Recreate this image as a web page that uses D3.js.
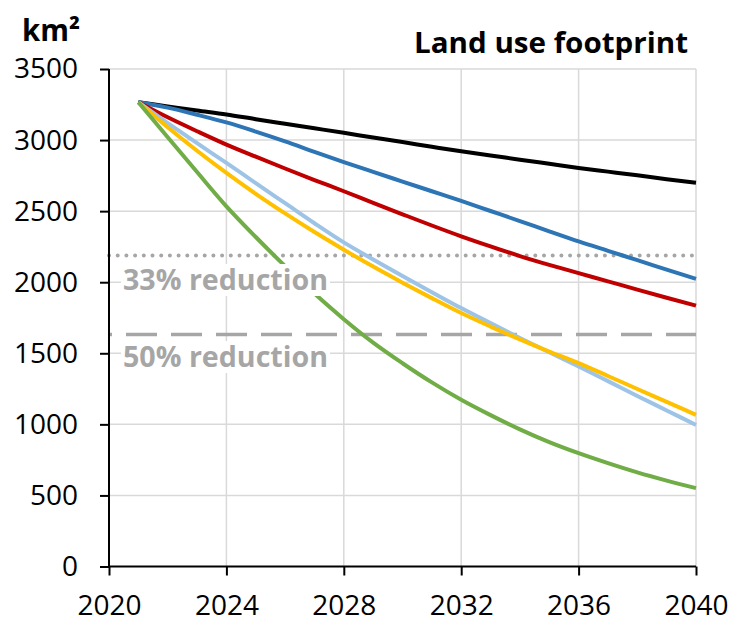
<!DOCTYPE html>
<html>
<head>
<meta charset="utf-8">
<script src="https://cdn.jsdelivr.net/npm/d3@7"></script>
<style>
  html, body { margin: 0; padding: 0; background: #fff; }
  svg { display: block; font-family: "Open Sans", "DejaVu Sans", sans-serif; }
</style>
</head>
<body>
<svg id="chart" width="730" height="622"></svg>
<script>
// Land use footprint scenarios, km², 2021–2040
const years = d3.range(2021, 2041);

const blackValues     = [3266, 3237, 3208, 3180, 3147, 3115, 3083, 3051, 3018, 2986, 2953, 2921, 2892, 2862, 2833, 2804, 2778, 2752, 2725, 2699];
const blueValues      = [3266, 3228, 3178, 3124, 3060, 2991, 2917, 2845, 2776, 2708, 2640, 2572, 2501, 2430, 2358, 2287, 2221, 2155, 2089, 2023];
const redValues       = [3266, 3160, 3062, 2968, 2883, 2800, 2719, 2640, 2558, 2478, 2399, 2323, 2252, 2184, 2122, 2064, 2006, 1948, 1891, 1835];
const lightBlueValues = [3266, 3120, 2978, 2839, 2697, 2556, 2415, 2280, 2160, 2043, 1930, 1818, 1712, 1608, 1507, 1407, 1304, 1200, 1098, 996];
const yellowValues    = [3266, 3090, 2925, 2769, 2622, 2484, 2353, 2229, 2110, 1997, 1888, 1783, 1688, 1598, 1512, 1431, 1340, 1249, 1158, 1067];
const greenValues     = [3266, 3020, 2775, 2534, 2318, 2113, 1920, 1740, 1575, 1430, 1295, 1173, 1065, 965, 875, 797, 727, 662, 604, 551];

const seriesColors = ["#000000", "#2e75b6", "#c00000", "#9dc3e6", "#ffc000", "#70ad47"];
const seriesList = [blackValues, blueValues, redValues, lightBlueValues, yellowValues, greenValues];

const xTicks = [2020, 2024, 2028, 2032, 2036, 2040];
const yTicks = [0, 500, 1000, 1500, 2000, 2500, 3000, 3500];

// reduction targets relative to the 2021 footprint
const reductionShares = [0.33, 0.50];
const reductionLabels = ["33% reduction", "50% reduction"];

const svg = d3.select("#chart");
const x = d3.scaleLinear().domain([2020, 2040]).range([109, 696]);
const y = d3.scaleLinear().domain([0, 3500]).range([566.5, 69]);

// gridlines
const grid = svg.append("g").attr("stroke", "#d9d9d9").attr("stroke-width", 1.5);
grid.selectAll(".gx").data(xTicks.slice(1)).join("line")
  .attr("x1", d => x(d)).attr("x2", d => x(d))
  .attr("y1", y(0)).attr("y2", y(3500));
grid.selectAll(".gy").data(yTicks.slice(1)).join("line")
  .attr("x1", x(2020)).attr("x2", x(2040))
  .attr("y1", d => y(d)).attr("y2", d => y(d));

// reduction reference lines
const base = blackValues[0];
const refLevels = reductionShares.map(s => base * (1 - s));
svg.append("line")
  .attr("x1", x(2020)).attr("x2", x(2040))
  .attr("y1", y(refLevels[0])).attr("y2", y(refLevels[0]))
  .attr("stroke", "#a6a6a6").attr("stroke-width", 4)
  .attr("stroke-linecap", "round").attr("stroke-dasharray", "0 8.7");
svg.append("line")
  .attr("x1", x(2020)).attr("x2", x(2040))
  .attr("y1", y(refLevels[1])).attr("y2", y(refLevels[1]))
  .attr("stroke", "#a6a6a6").attr("stroke-width", 3.5)
  .attr("stroke-dasharray", "31 14").attr("stroke-dashoffset", 28);

// scenario lines
const line = d3.line()
  .x((d, i) => x(years[i]))
  .y(d => y(d))
  .curve(d3.curveMonotoneX);

svg.append("g").selectAll("path").data(seriesList).join("path")
  .attr("d", d => line(d))
  .attr("fill", "none")
  .attr("stroke", (d, i) => seriesColors[i])
  .attr("stroke-width", 4)
  .attr("stroke-linejoin", "round");

// reduction labels on a white box
const labelY = [290, 367];
reductionLabels.forEach((txt, i) => {
  const g = svg.append("g");
  const t = g.append("text")
    .attr("x", 123).attr("y", labelY[i])
    .attr("font-size", 28).attr("font-weight", 700)
    .attr("fill", "#a6a6a6")
    .attr("textLength", 205).attr("lengthAdjust", "spacingAndGlyphs")
    .text(txt);
  const bb = t.node().getBBox();
  g.insert("rect", "text")
    .attr("x", bb.x - 2).attr("y", bb.y + 4)
    .attr("width", bb.width + 4).attr("height", bb.height - 6)
    .attr("fill", "#fff");
});

// axes
const yAxis = svg.append("g")
  .attr("transform", `translate(${x(2020)},0)`)
  .call(d3.axisLeft(y).tickValues(yTicks).tickSize(9).tickPadding(22).tickFormat(d3.format("d")));
const xAxis = svg.append("g")
  .attr("transform", `translate(0,${y(0)})`)
  .call(d3.axisBottom(x).tickValues(xTicks).tickSize(9).tickPadding(20).tickFormat(d3.format("d")));

[yAxis, xAxis].forEach(a => {
  a.select(".domain").attr("stroke", "#000").attr("stroke-width", 2);
  a.selectAll(".tick line").attr("stroke", "#000").attr("stroke-width", 2);
  a.selectAll(".tick text").attr("font-size", 28).attr("fill", "#000")
    .attr("font-family", "'Open Sans', sans-serif");
});
yAxis.select(".domain").attr("d", `M0,${y(3500)}V${y(0)}`);
xAxis.select(".domain").attr("d", `M${x(2020)},0H${x(2040)}`);

// unit label and title
svg.append("text")
  .attr("x", 22).attr("y", 41)
  .attr("font-size", 30).attr("font-weight", 700).attr("fill", "#000")
  .attr("textLength", 58).attr("lengthAdjust", "spacingAndGlyphs")
  .text("km²");
svg.append("text")
  .attr("x", 688).attr("y", 53)
  .attr("text-anchor", "end")
  .attr("font-size", 29).attr("font-weight", 700).attr("fill", "#000")
  .attr("textLength", 274).attr("lengthAdjust", "spacingAndGlyphs")
  .text("Land use footprint");
</script>
</body>
</html>
